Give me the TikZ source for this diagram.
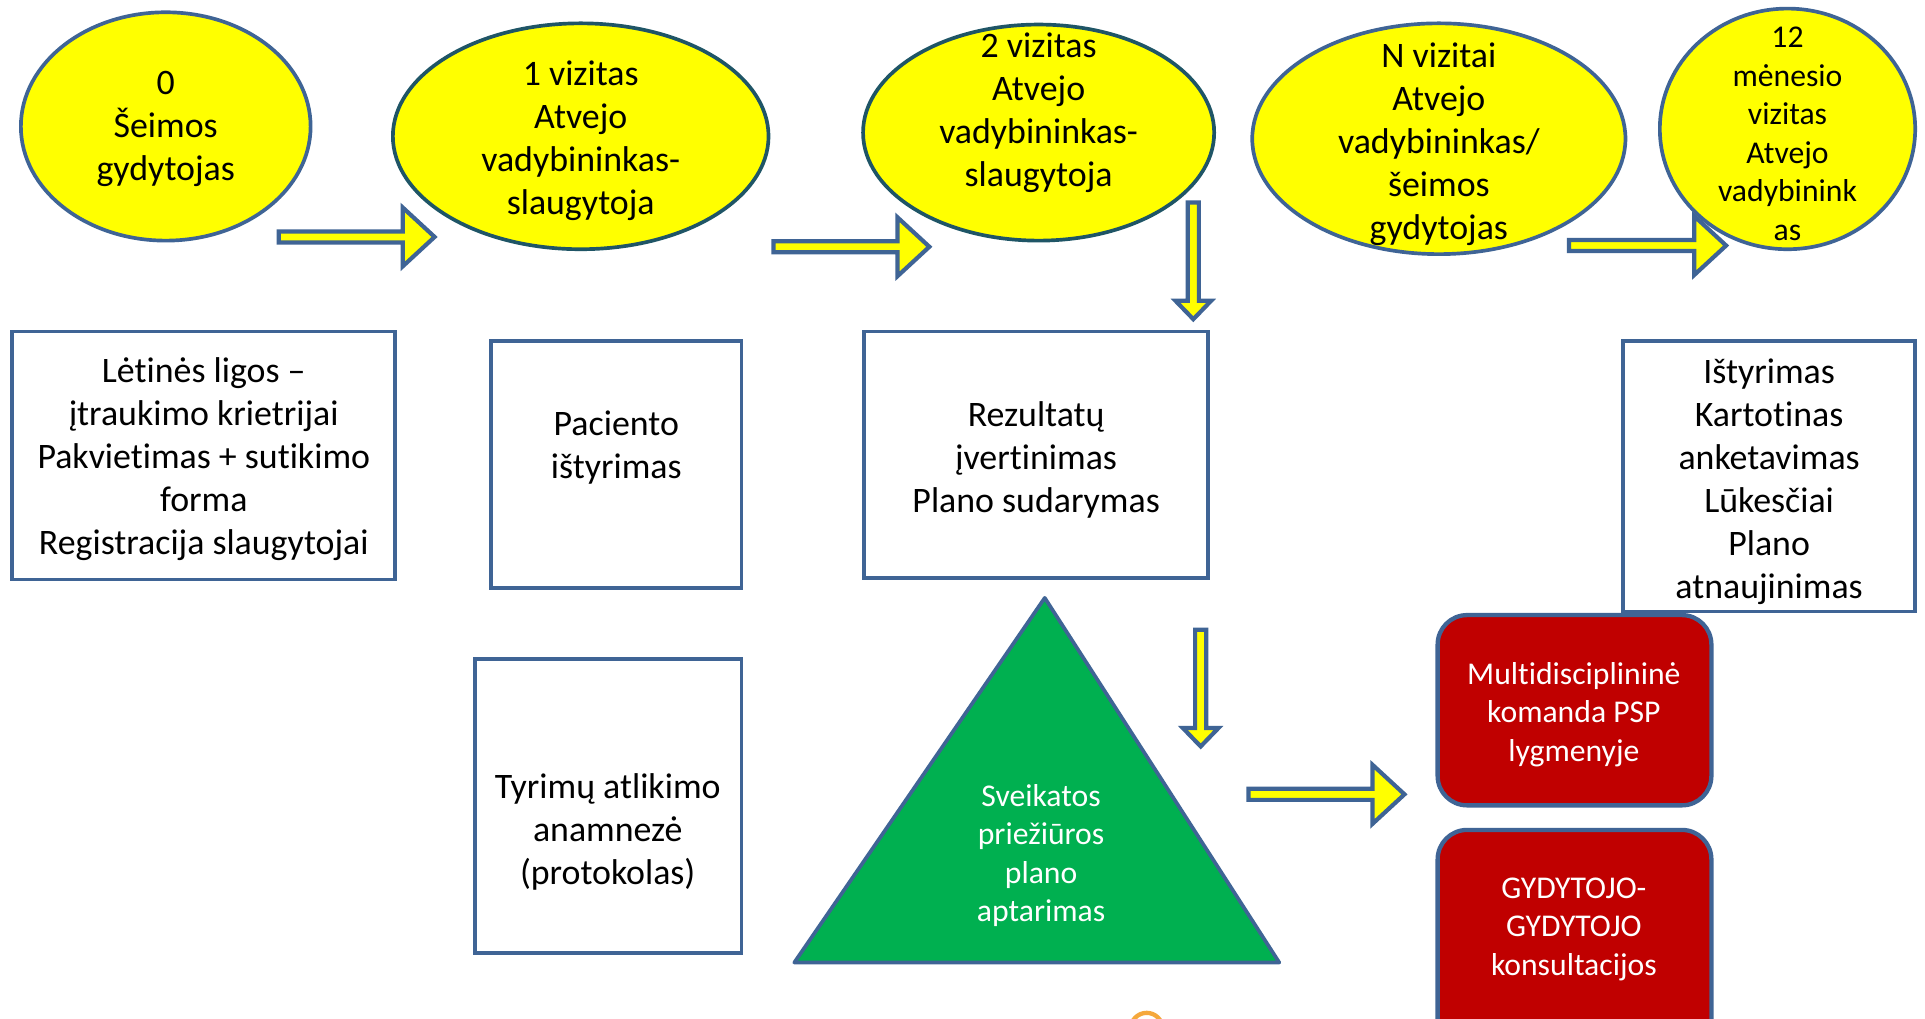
\documentclass[tikz,border=0pt]{standalone}
\usepackage{fontspec}
\setmainfont{Carlito}[Ligatures={NoCommon}]
\usetikzlibrary{shapes.geometric}
\definecolor{yel}{HTML}{FFFF00}
\definecolor{bl}{HTML}{3F6495}
\definecolor{teal}{HTML}{1F5566}
\definecolor{grn}{HTML}{00B050}
\definecolor{rd}{HTML}{C00000}
\definecolor{org}{HTML}{F5A83C}
\tikzset{
  ell/.style={ellipse, draw=bl, line width=3pt, fill=yel, inner sep=0pt},
  ellt/.style={ell, draw=teal},
  box/.style={rectangle, draw=bl, line width=3pt, fill=white, inner sep=0pt},
  rbox/.style={rectangle, rounded corners=24pt, draw=bl, line width=3.5pt, fill=rd, inner sep=0pt},
  txt/.style={align=center, inner sep=0pt, font=\fontsize{29.2}{35}\selectfont},
  stxt/.style={align=center, inner sep=0pt, font=\fontsize{25.8}{31.3}\selectfont},
  barrow/.style={draw=bl, fill=yel, line width=3.4pt, line join=miter},
}
\newcommand{\blkR}[3]{% x1, tip x, y
  \draw[barrow] (#1,#3-4.5) -- (#2-26,#3-4.5) -- (#2-26,#3-24) -- (#2,#3) -- (#2-26,#3+24) -- (#2-26,#3+4.5) -- (#1,#3+4.5) -- cycle;}
\newcommand{\blkD}[3]{% y1, tip y, x
  \draw[barrow] (#3-4.5,#1) -- (#3-4.5,#2-15) -- (#3-14.5,#2-15) -- (#3,#2) -- (#3+14.5,#2-15) -- (#3+4.5,#2-15) -- (#3+4.5,#1) -- cycle;}
\begin{document}
\begin{tikzpicture}[x=1pt,y=-1pt]
\useasboundingbox (0,0) rectangle (1568,830);
\clip (0,0) rectangle (1568,830);
\fill[white] (0,0) rectangle (1568,830);

% ellipses
\node[ell, minimum width=236, minimum height=186] (e0) at (135,103) {};
\node[txt] (e0t) at (135,105) {0\\Šeimos\\gydytojas};
\node[ellt, minimum width=306, minimum height=184] (e1) at (473,111) {};
\node[txt] (e1t) at (473,115) {1 vizitas\\Atvejo\\vadybininkas-\\slaugytoja};
\node[ellt, minimum width=286, minimum height=176] (e2) at (846,108) {};
\node[txt] (e2t) at (846,92) {2 vizitas\\Atvejo\\vadybininkas-\\slaugytoja};
\node[ell, minimum width=304, minimum height=188] (eN) at (1172,113) {};
\node[txt] (eNt) at (1172,117.5) {N vizitai\\Atvejo\\vadybininkas/\\šeimos\\gydytojas};
\node[ell, minimum width=208, minimum height=196] (e12) at (1456,105) {};
\node[stxt] (e12t) at (1456,109) {12\\mėnesio\\vizitas\\Atvejo\\vadybinink\\as};

% arrows
\blkR{227}{354}{193}
\blkR{630}{757}{201}
\blkR{1278}{1406}{200}
\blkR{1017}{1144}{647}
\blkD{165}{260}{972}
\blkD{513}{608}{978}

% rectangles
\node[box, minimum width=312, minimum height=202] (r1) at (166,371) {};
\node[txt] (r1t) at (166,374) {Lėtinės ligos –\\įtraukimo krietrijai\\Pakvietimas + sutikimo\\forma\\Registracija slaugytojai};
\node[box, minimum width=204, minimum height=201] (r2) at (502,378.5) {};
\node[txt] (r2t) at (502,364.5) {Paciento\\ištyrimas};
\node[box, minimum width=280, minimum height=201] (r3) at (844,370.5) {};
\node[txt] (r3t) at (844,374.5) {Rezultatų\\įvertinimas\\Plano sudarymas};
\node[box, minimum width=238, minimum height=220] (r4) at (1441,388) {};
\node[txt] (r4t) at (1441,392.5) {Ištyrimas\\Kartotinas\\anketavimas\\Lūkesčiai\\Plano\\atnaujinimas};
\node[box, minimum width=217, minimum height=239] (r5) at (495.5,656.5) {};
\node[txt] (r5t) at (495,677.5) {Tyrimų atlikimo\\anamnezė\\(protokolas)};

% triangle
\coordinate (ta) at (851,487);
\coordinate (tb) at (647,784);
\coordinate (tc) at (1042,784);
\draw[draw=bl, fill=grn, line width=3pt, line join=round] (ta) -- (tc) -- (tb) -- cycle;
\node[stxt, text=white] (tt) at (848,697) {Sveikatos\\priežiūros\\plano\\aptarimas};

% red boxes
\node[rbox, minimum width=223, minimum height=155] (m1) at (1282.5,578.5) {};
\node[stxt, text=white] (m1t) at (1282,582) {Multidisciplininė\\komanda PSP\\lygmenyje};
\node[rbox, minimum width=223, minimum height=180] (m2) at (1282.5,766) {};
\node[stxt, text=white] (m2t) at (1282,757) {GYDYTOJO-\\GYDYTOJO\\konsultacijos};

% orange partial circle at bottom edge
\draw[org, line width=3.5pt] (934,838) circle[radius=13];
\end{tikzpicture}
\end{document}
